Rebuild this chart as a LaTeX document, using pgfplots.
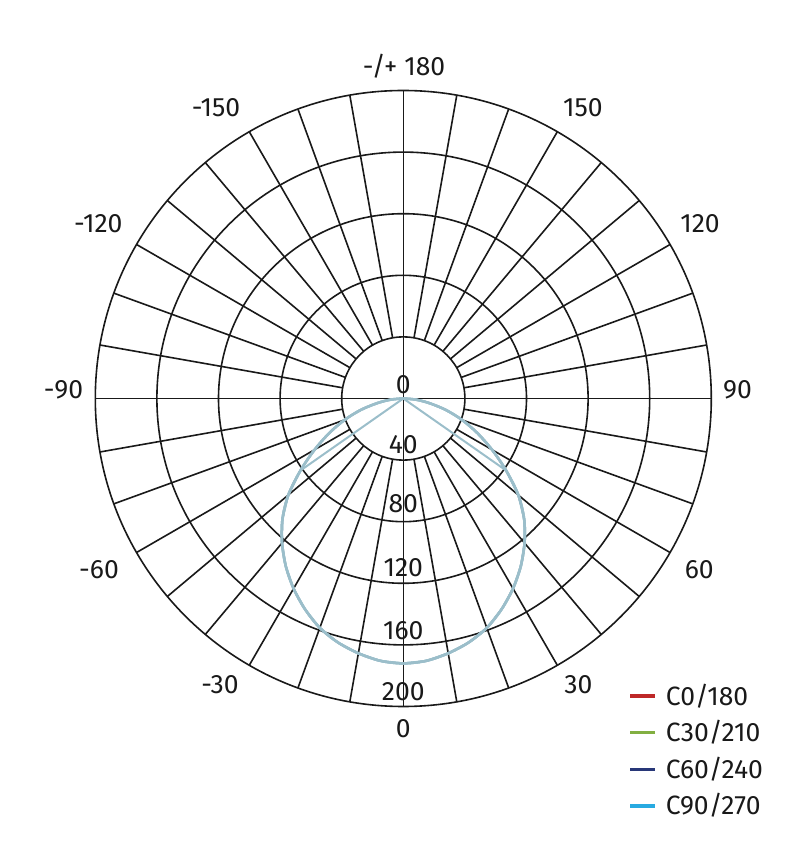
\documentclass[border=0pt]{standalone}
\usepackage{fontspec}
\setmainfont{Fira Sans}
\usepackage{pgfplots}
\pgfplotsset{compat=1.18}
\usepackage{pgfplotstable}

\definecolor{gridc}{RGB}{25,25,25}
\definecolor{curvec}{RGB}{155,190,202}
\definecolor{czero}{RGB}{190,40,40}
\definecolor{cthirty}{RGB}{130,175,65}
\definecolor{csixty}{RGB}{40,55,120}
\definecolor{cninety}{RGB}{40,170,225}

% luminous intensity (cd) against gamma angle, 0 = straight down
\pgfplotstableread{
theta I
-90 0
-85 8
-80 17
-75 28.5
-70 40.5
-65 53
-60 66.5
-55 81.5
-50 97.5
-45 111
-40 122.5
-35 133
-30 142.5
-25 151
-20 158.5
-15 164
-10 168
-5 171
0 172
5 171
10 168
15 164
20 158.5
25 151
30 142.5
35 133
40 122.5
45 111
50 97.5
55 81.5
60 66.5
65 53
70 40.5
75 28.5
80 17
85 8
90 0
}\fulldata

% plane that stops at 55 deg and falls back to the centre
\pgfplotstableread{
theta I
-60 0
-55 81.5
-50 97.5
-45 111
-40 122.5
-35 133
-30 142.5
-25 151
-20 158.5
-15 164
-10 168
-5 171
0 172
5 171
10 168
15 164
20 158.5
25 151
30 142.5
35 133
40 122.5
45 111
50 97.5
55 81.5
60 0
}\cutdata

\begin{document}
\begin{tikzpicture}[x=1pt,y=1pt,
  every node/.style={font=\fontsize{26.5}{30}\selectfont, text=gridc}]
\path[use as bounding box] (0,0) rectangle (807,847);

% polar grid
\begin{scope}[shift={(403.3,448.5)}, draw=gridc, line width=1.6pt]
  \foreach \r in {61.6,123.2,184.8,246.4,308}
    \draw (0,0) circle[radius=\r];
  \foreach \a in {0,10,...,350}
    \draw (\a:61.6) -- (\a:308);
  \draw (-61.6,0) -- (61.6,0);
  \draw (0,-61.6) -- (0,61.6);
\end{scope}

\begin{axis}[
    at={(403.3pt,448.5pt)}, anchor=center,
    width=616pt, height=616pt, scale only axis,
    xmin=-200, xmax=200, ymin=-200, ymax=200,
    hide axis, clip=false,
    legend cell align=left,
    legend style={at={(axis cs:146.1,-187.3)}, anchor=north west,
      draw=none, fill=none, inner xsep=0pt, inner ysep=0pt,
      row sep=18.6pt, column sep=9pt,
      nodes={inner sep=0pt, text height=18pt, text depth=0pt},
      font=\fontsize{26.5}{30}\selectfont},
    legend image code/.code={\draw[#1, line width=3.5pt] (0pt,0pt) -- (25pt,0pt);},
]
\addplot[curvec, line width=2pt, data cs=polar, forget plot]
  table[x expr=\thisrow{theta}-90, y=I] {\cutdata};
\addplot[curvec, line width=2.5pt, data cs=polar, smooth, forget plot]
  table[x expr=\thisrow{theta}-90, y=I] {\fulldata};
\addplot[curvec, line width=2.5pt, data cs=polar, smooth, forget plot]
  table[x expr=\thisrow{theta}-90, y=I] {\fulldata};
\addplot[curvec, line width=2.5pt, data cs=polar, smooth, forget plot]
  table[x expr=\thisrow{theta}-90, y=I] {\fulldata};

\addlegendimage{czero}
\addlegendentry{C0/180}
\addlegendimage{cthirty}
\addlegendentry{C30/210}
\addlegendimage{csixty}
\addlegendentry{C60/240}
\addlegendimage{cninety}
\addlegendentry{C90/270}
\end{axis}

% angle labels
\node[anchor=base] at (404,771) {-/+ 180};
\node[anchor=base] at (583,730) {150};
\node[anchor=base] at (216,730) {-150};
\node[anchor=base] at (700,614.3) {120};
\node[anchor=base] at (98.3,614.3) {-120};
\node[anchor=base] at (737.5,448.7) {90};
\node[anchor=base] at (63.5,448.7) {-90};
\node[anchor=base] at (699.3,268.7) {60};
\node[anchor=base] at (99,268.7) {-60};
\node[anchor=base] at (578.3,153.7) {30};
\node[anchor=base] at (220,153.7) {-30};
\node[anchor=base] at (403.3,109) {0};

% intensity labels along the 0 axis
\node[anchor=base] at (403.3,453.7) {0};
\node[anchor=base] at (403.3,393.7) {40};
\node[anchor=base] at (403.3,334) {80};
\node[anchor=base] at (403.3,270) {120};
\node[anchor=base] at (403.3,207) {160};
\node[anchor=base] at (403.3,146.3) {200};
\end{tikzpicture}
\end{document}
